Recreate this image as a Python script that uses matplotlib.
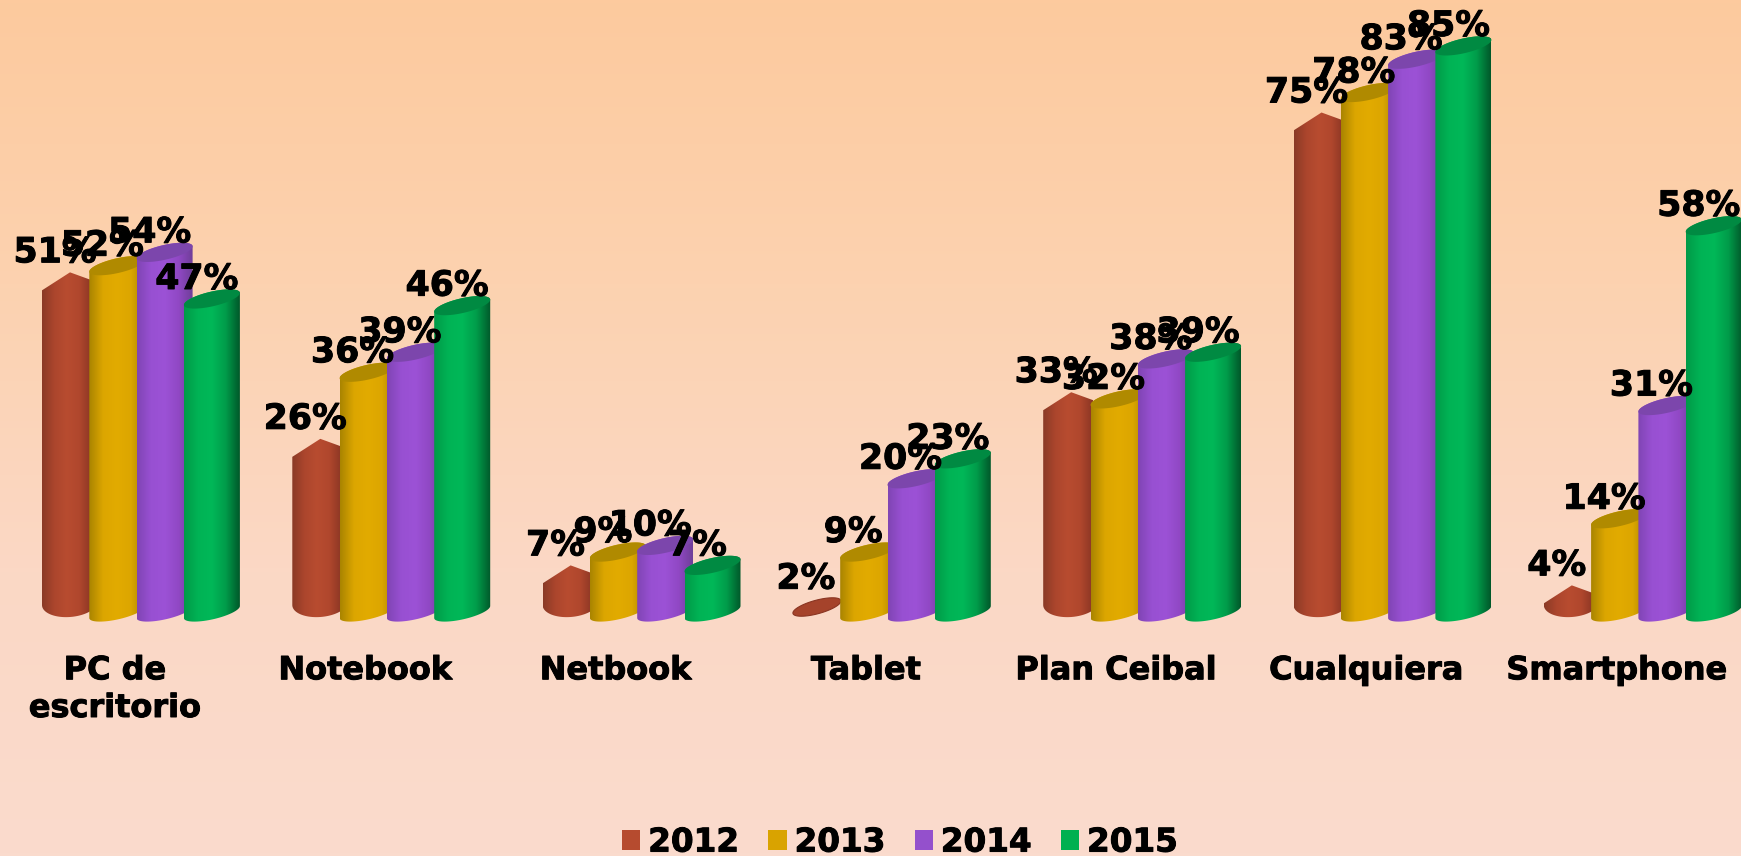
import matplotlib
matplotlib.use("Agg")
import matplotlib.pyplot as plt
import matplotlib.patheffects as pe
import numpy as np
from matplotlib.colors import LinearSegmentedColormap
from matplotlib.patches import Patch, PathPatch, Polygon
from matplotlib.path import Path

categories = ["PC de\nescritorio", "Notebook", "Netbook", "Tablet", "Plan Ceibal", "Cualquiera", "Smartphone"]
years = ["2012", "2013", "2014", "2015"]
v2012 = [51, 26, 7, 2, 33, 75, 4]
v2013 = [52, 36, 9, 9, 32, 78, 14]
v2014 = [54, 39, 10, 20, 38, 83, 31]
v2015 = [47, 46, 7, 23, 39, 85, 58]
series = [v2012, v2013, v2014, v2015]

legend_colors = ["#B64B2F", "#D9A300", "#9450CC", "#00B050"]
body_colors = [
    ["#8A3A26", "#AC462D", "#B84C30", "#B0472D", "#8A3624"],
    ["#A98400", "#DCA600", "#E2AB00", "#DCA600", "#A98400"],
    ["#8045B4", "#9850D2", "#9C52D6", "#9048C4", "#6F3E98"],
    ["#009A48", "#00B355", "#00B858", "#009C4A", "#00582A"],
]
cap_colors = ["#A9442C", "#B08A00", "#7C46AC", "#008A42"]

W, H = 1741, 856
px_per_cat = 250.3
px_per_val = 6.66
base_py = 612
ax_bottom_py = 640
center0 = 115

sx = 1 / px_per_cat
sy = 1 / px_per_val
dpi = 100
pt = 72 / dpi
heavy = [pe.withStroke(linewidth=0.7, foreground="black")]

fig = plt.figure(figsize=(W / dpi, H / dpi), dpi=dpi)

# background gradient
bg = fig.add_axes([0, 0, 1, 1], zorder=0)
bg_cmap = LinearSegmentedColormap.from_list("bg", ["#FDCA9E", "#FCD2B0", "#FBD8C5", "#FADBCD"])
bg.imshow(np.linspace(0, 1, 256).reshape(-1, 1), cmap=bg_cmap, aspect="auto", extent=(0, 1, 0, 1))
bg.axis("off")

ax = fig.add_axes([0, (H - ax_bottom_py) / H, 1, ax_bottom_py / H], zorder=1)
ax.patch.set_alpha(0)


def draw_gradient(path, colors, x0, x1, y0, y1, z):
    cmap = LinearSegmentedColormap.from_list("c", colors)
    clip = PathPatch(path, transform=ax.transData, facecolor="none", edgecolor="none")
    ax.add_patch(clip)
    im = ax.imshow(np.linspace(0, 1, 128).reshape(1, -1), cmap=cmap, aspect="auto",
                   extent=(x0, x1, y0, y1), zorder=z, interpolation="bilinear")
    im.set_clip_path(clip)


def slanted(x0, width, cy, half_h, t, tilt=6):
    # ellipse tilted upward to the right, t=0 is the left end
    x = x0 + width / 2 - width / 2 * np.cos(t)
    y = cy - tilt * sy * np.cos(t) + half_h * np.sin(t)
    return x, y


def cylinder(x0, value, j, z):
    width = 56 * sx
    t_up = np.linspace(0, np.pi, 40)
    t_low = np.linspace(np.pi, 2 * np.pi, 40)
    xt, yt = slanted(x0, width, value, 7.5 * sy, t_up)
    xb, yb = slanted(x0, width, 0, 7.5 * sy, t_low)
    pts = np.vstack([np.column_stack([xt, yt]), np.column_stack([xb, yb])])
    path = Path(np.vstack([pts, pts[0]]), closed=True)
    draw_gradient(path, body_colors[j], x0, x0 + width, -10, value + 3, z)
    xl, yl = slanted(x0, width, value, 7.5 * sy, t_low)
    cap = np.vstack([np.column_stack([xt, yt]), np.column_stack([xl, yl])])
    ax.add_patch(Polygon(cap, closed=True, facecolor=cap_colors[j], edgecolor="none", zorder=z + 0.1))


def peaked(x0, value, z):
    # the 2012 bars read as a pointed top and a rounder foot
    width = 50 * sx
    if value < 3:
        t = np.linspace(0, 2 * np.pi, 60)
        x, y = slanted(x0, 48 * sx, 0.75, 7 * sy, t)
        ax.add_patch(Polygon(np.column_stack([x, y]), closed=True, facecolor="#A5432B",
                             edgecolor="#8A3522", linewidth=0.8, zorder=z))
        return
    t_low = np.linspace(np.pi, 2 * np.pi, 60)
    xb, yb = slanted(x0, 56 * sx, 9 * sy, 14 * sy, t_low, tilt=2)
    keep = xb <= x0 + width
    top = np.array([[x0, value - 18 * sy], [x0 + 28 * sx, value], [x0 + width, value - 8 * sy]])
    pts = np.vstack([top, np.column_stack([xb[keep], yb[keep]])])
    draw_gradient(Path(np.vstack([pts, pts[0]]), closed=True), body_colors[0],
                  x0, x0 + width, -10, value + 3, z)


x_pos = np.arange(len(categories))
for j, vals in enumerate(series):
    for i, v in enumerate(vals):
        left = x_pos[i] + (-73 + 47.3 * j) * sx
        if j == 0:
            peaked(left, v, 2)
        else:
            cylinder(left, v, j, 2 + j)

# value labels sit on top of all bars
for j, vals in enumerate(series):
    for i, v in enumerate(vals):
        left = x_pos[i] + (-73 + 47.3 * j) * sx
        ax.annotate(f"{v}%", xy=(left, v), xytext=(13 * pt, 20 * pt), textcoords="offset points",
                    ha="center", va="center", fontsize=25, fontweight="bold", color="black",
                    family="DejaVu Sans", zorder=20, annotation_clip=False, path_effects=heavy)

ax.set_xlim(-center0 * sx, (W - center0) * sx)
ax.set_ylim((base_py - ax_bottom_py) * sy, base_py * sy)
ax.set_xticks(x_pos)
ax.set_xticklabels(categories, fontsize=23, fontweight="bold", family="DejaVu Sans", path_effects=heavy,
                   linespacing=1.28)
ax.tick_params(axis="x", length=0, pad=11)
ax.set_yticks([])
for s in ax.spines.values():
    s.set_visible(False)

handles = [Patch(facecolor=c, edgecolor="none", label=y) for c, y in zip(legend_colors, years)]
leg = fig.legend(handles=handles, loc="lower center", bbox_to_anchor=(900 / W, -0.003), ncol=4, frameon=False,
                 prop={"family": "DejaVu Sans", "weight": "bold", "size": 23.5},
                 handlelength=0.56, handleheight=0.56, handletextpad=0.24, columnspacing=0.9, borderpad=0,
                 borderaxespad=0)
for t in leg.get_texts():
    t.set_path_effects(heavy)

fig.savefig("out.png", dpi=dpi)
